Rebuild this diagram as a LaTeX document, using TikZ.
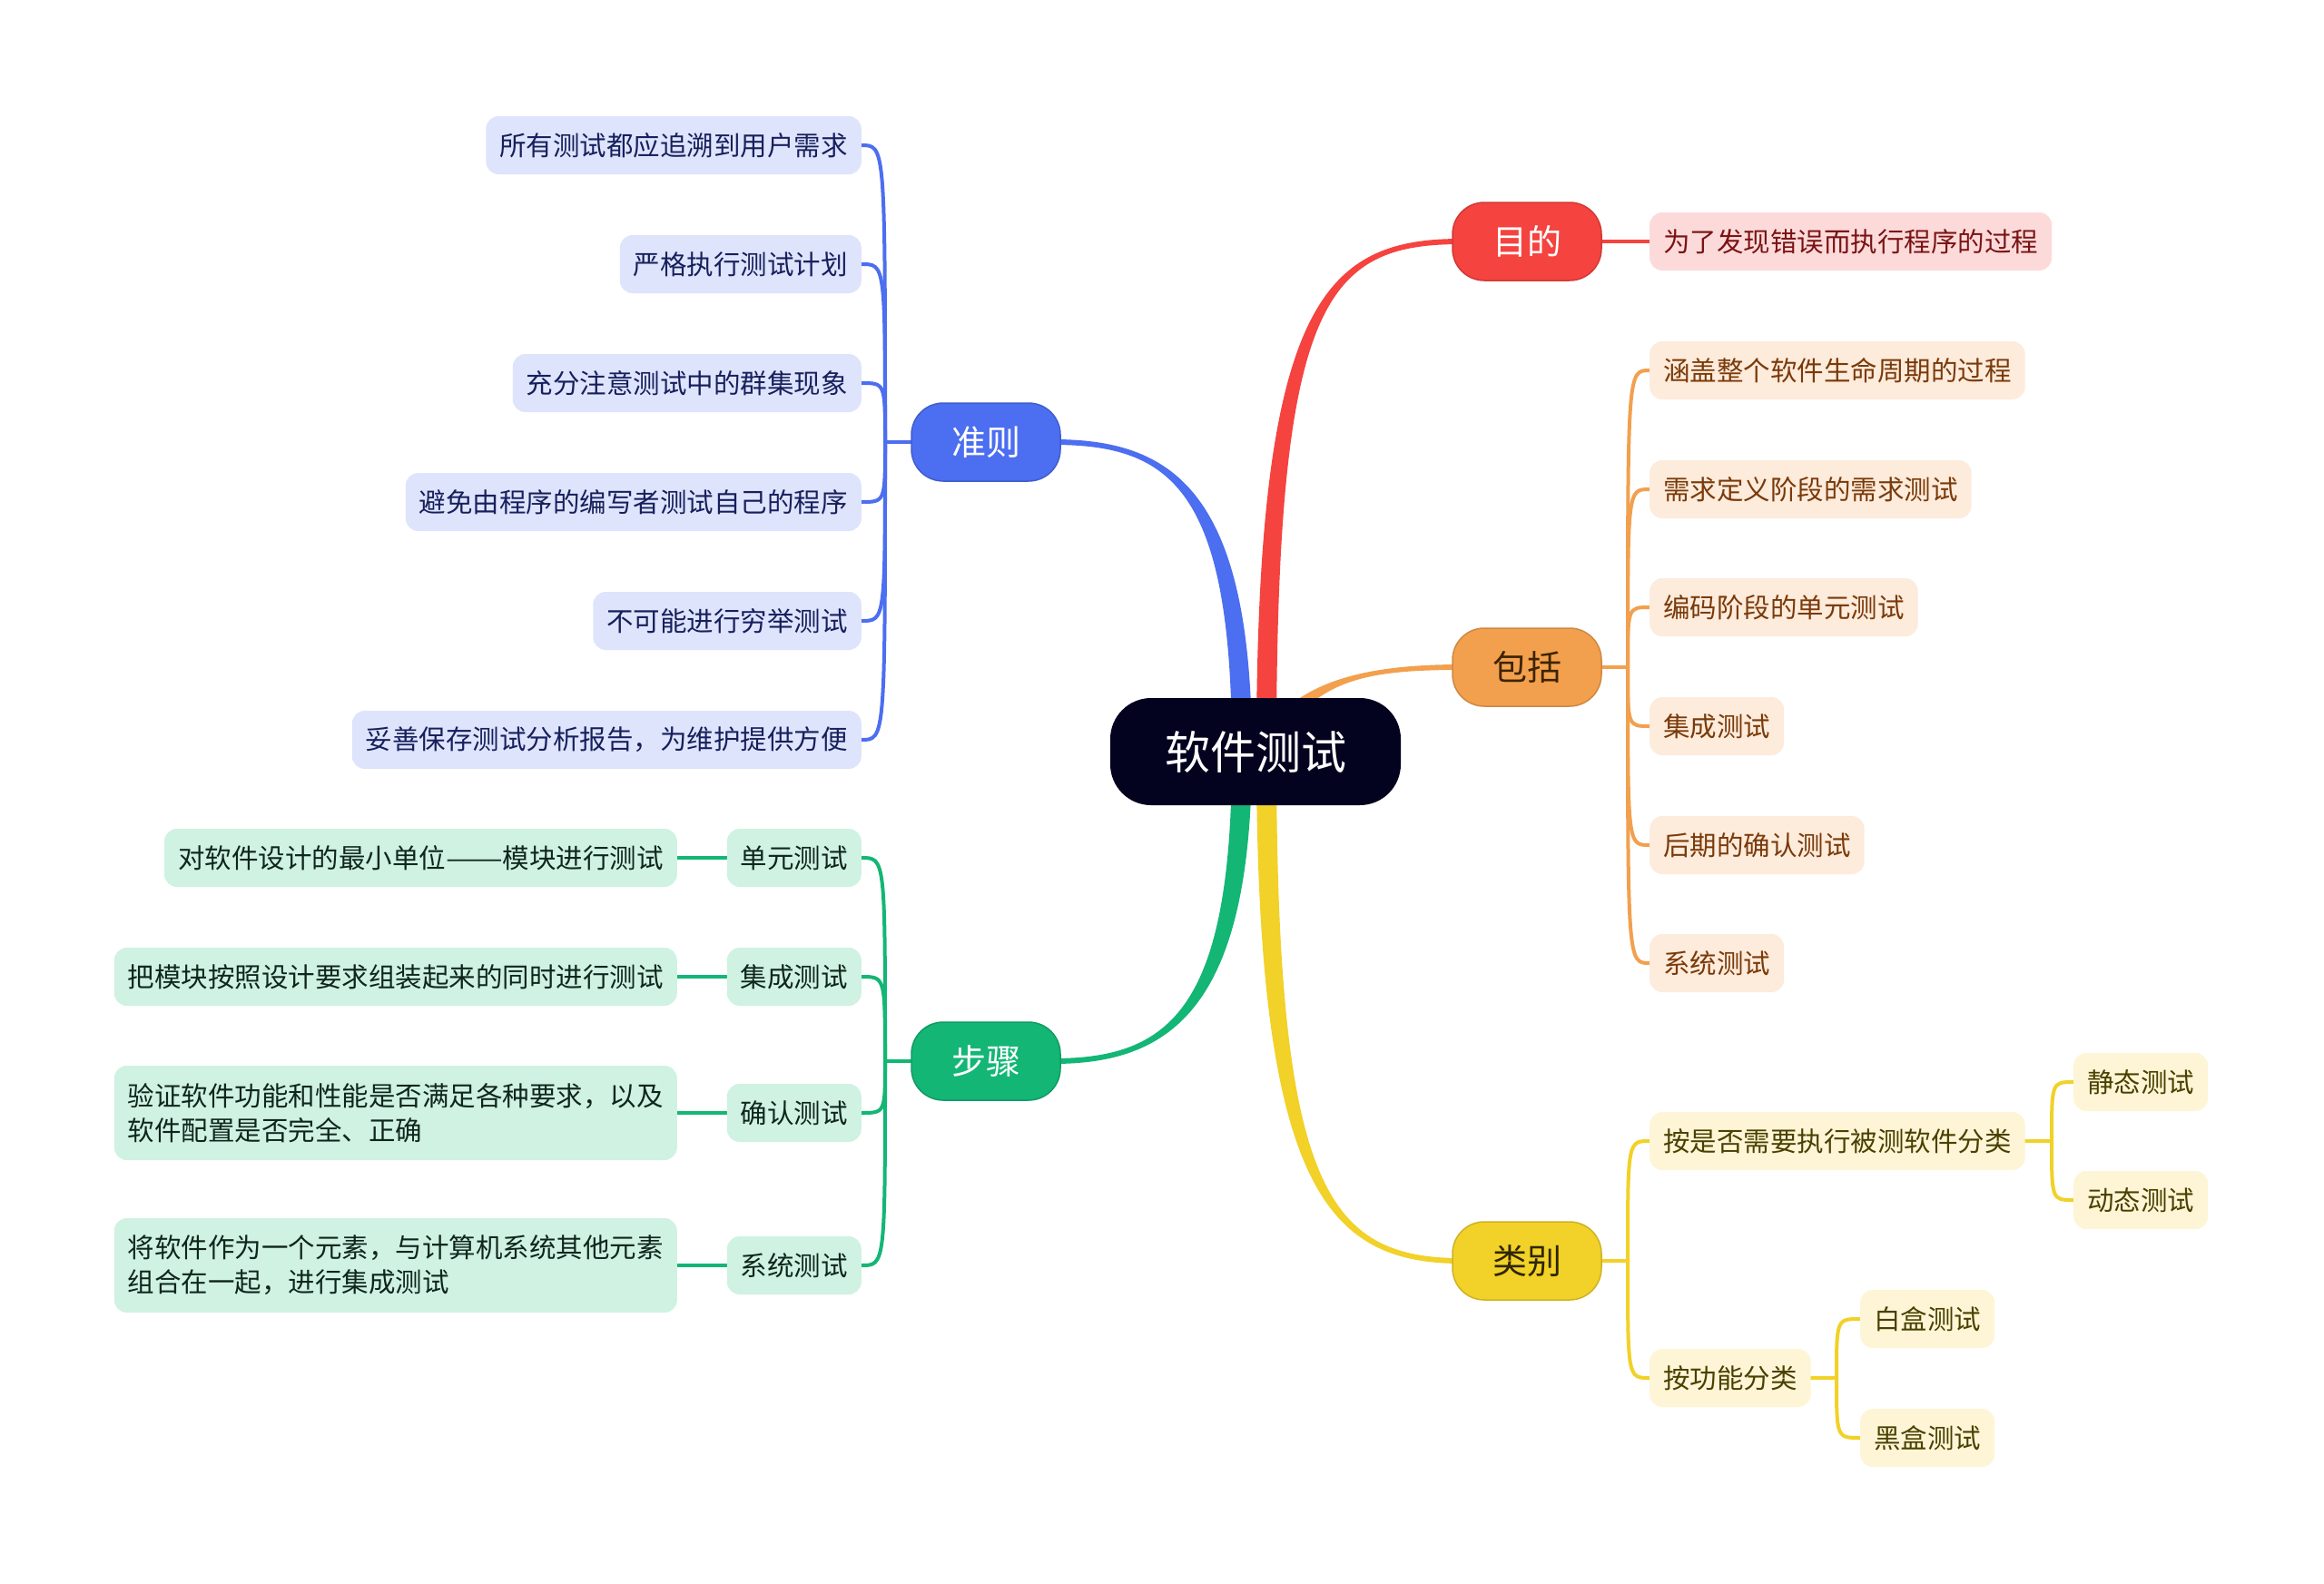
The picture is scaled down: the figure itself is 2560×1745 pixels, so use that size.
\documentclass[tikz,border=0pt]{standalone}
\usepackage{fontspec}
\setmainfont{Noto Sans CJK SC}
\definecolor{cdark}{HTML}{03021F}
\definecolor{cblue}{HTML}{4C6EF0}
\definecolor{cred}{HTML}{F5433F}
\definecolor{corange}{HTML}{F2A04E}
\definecolor{cgreen}{HTML}{13B675}
\definecolor{cyellow}{HTML}{F2D128}
\definecolor{lblue}{HTML}{DEE4FC}
\definecolor{lred}{HTML}{FDDADA}
\definecolor{lorange}{HTML}{FDEBDB}
\definecolor{lgreen}{HTML}{CFF2E2}
\definecolor{lyellow}{HTML}{FDF5D5}
\definecolor{tblue}{HTML}{17205C}
\definecolor{tred}{HTML}{7A1414}
\definecolor{torange}{HTML}{7A3A0A}
\definecolor{tgreen}{HTML}{10261C}
\definecolor{tyellow}{HTML}{4A4000}
\definecolor{tor}{HTML}{3D2300}
\definecolor{tyl}{HTML}{2E2600}
\pgfdeclarelayer{back}
\pgfdeclarelayer{bg}
\pgfsetlayers{back,bg,main}
\newcommand\brA[9]{\fill[#1] (#2-11,#3) .. controls (#4-11,#5) and (#6,#7-3) .. (#8,#9-3) -- (#8,#9+3) .. controls (#6,#7+3) and (#4+11,#5) .. (#2+11,#3) -- cycle;}
\newcommand\brB[9]{\fill[#1] (#2-11,#3) .. controls (#4-11,#5) and (#6,#7+3) .. (#8,#9+3) -- (#8,#9-3) .. controls (#6,#7-3) and (#4+11,#5) .. (#2+11,#3) -- cycle;}
\newcommand\lk[4]{\draw[conn=#1] (#2) .. controls (#2 |- #3.#4) and (#2 |- #3.#4) .. (#3.#4);}
\tikzset{
  cen/.style={fill=cdark, text=white, rounded corners=45, minimum width=320, minimum height=118, inner sep=0, font=\fontsize{50}{60}\selectfont},
  topic/.style={rounded corners=35, minimum width=164, minimum height=86, inner sep=0, line width=1.5, font=\fontsize{38}{46}\selectfont},
  leaf/.style={rounded corners=14, minimum height=64, inner xsep=15, inner ysep=0, align=left, font=\fontsize{29.5}{38}\selectfont},
  bleaf/.style={leaf, fill=lblue, text=tblue, anchor=east},
  gleaf/.style={leaf, fill=lgreen, text=tgreen, anchor=east},
  oleaf/.style={leaf, fill=lorange, text=torange, anchor=west},
  rleaf/.style={leaf, fill=lred, text=tred, anchor=west},
  yleaf/.style={leaf, fill=lyellow, text=tyellow, anchor=west},
  conn/.style={draw=#1, line width=4, line cap=round}
}
\begin{document}
\begin{tikzpicture}[x=1pt,y=-1pt]
\useasboundingbox (0,0) rectangle (2560,1745);
\begin{pgfonlayer}{back}
\fill[white] (0,0) rectangle (2560,1745);
\end{pgfonlayer}
% central and main topics
\node[cen] (c) at (1383,828) {软件测试};
\node[topic, fill=cblue, draw=cblue!85!black, text=white] (zz) at (1086,487) {准则};
\node[topic, fill=cred, draw=cred!85!black, text=white] (md) at (1682,266) {目的};
\node[topic, fill=corange, draw=corange!85!black, text=tor] (bk) at (1682,735) {包括};
\node[topic, fill=cgreen, draw=cgreen!85!black, text=white] (bz) at (1086,1169) {步骤};
\node[topic, fill=cyellow, draw=cyellow!85!black, text=tyl] (lb) at (1682,1389) {类别};
% 准则 leaves
\node[bleaf] (b1) at (949,160) {所有测试都应追溯到用户需求};
\node[bleaf] (b2) at (949,291) {严格执行测试计划};
\node[bleaf] (b3) at (949,422) {充分注意测试中的群集现象};
\node[bleaf] (b4) at (949,553) {避免由程序的编写者测试自己的程序};
\node[bleaf] (b5) at (949,684) {不可能进行穷举测试};
\node[bleaf] (b6) at (949,815) {妥善保存测试分析报告，为维护提供方便};
% 步骤
\node[gleaf] (g1) at (949,945) {单元测试};
\node[gleaf] (g2) at (949,1076) {集成测试};
\node[gleaf] (g3) at (949,1226) {确认测试};
\node[gleaf] (g4) at (949,1394) {系统测试};
\node[gleaf] (h1) at (746,945) {对软件设计的最小单位\scalebox{1.27}[1]{——}模块进行测试};
\node[gleaf] (h2) at (746,1076) {把模块按照设计要求组装起来的同时进行测试};
\node[gleaf, minimum height=104] (h3) at (746,1226) {验证软件功能和性能是否满足各种要求，以及\\软件配置是否完全、正确};
\node[gleaf, minimum height=104] (h4) at (746,1394) {将软件作为一个元素，与计算机系统其他元素\\组合在一起，进行集成测试};
% 目的
\node[rleaf] (r1) at (1817,266) {为了发现错误而执行程序的过程};
% 包括
\node[oleaf] (o1) at (1817,408) {涵盖整个软件生命周期的过程};
\node[oleaf] (o2) at (1817,539) {需求定义阶段的需求测试};
\node[oleaf] (o3) at (1817,669) {编码阶段的单元测试};
\node[oleaf] (o4) at (1817,800) {集成测试};
\node[oleaf] (o5) at (1817,931) {后期的确认测试};
\node[oleaf] (o6) at (1817,1061) {系统测试};
% 类别
\node[yleaf] (y1) at (1817,1257) {按是否需要执行被测软件分类};
\node[yleaf] (y2) at (1817,1518) {按功能分类};
\node[yleaf] (y3) at (2284,1192) {静态测试};
\node[yleaf] (y4) at (2284,1322) {动态测试};
\node[yleaf] (y5) at (2049,1453) {白盒测试};
\node[yleaf] (y6) at (2049,1584) {黑盒测试};
% junctions
\coordinate (jb) at (975,487);
\coordinate (jg) at (975,1169);
\coordinate (jo) at (1793,735);
\coordinate (jy) at (1793,1389);
\coordinate (jy1) at (2260,1257);
\coordinate (jy2) at (2023,1518);
\begin{pgfonlayer}{bg}
% main branches
\brB{cblue}{1368}{828}{1368}{539}{1290}{487}{1160}{487}
\brA{cgreen}{1368}{828}{1368}{1110}{1290}{1169}{1160}{1169}
\brA{cred}{1395}{828}{1395}{330}{1460}{266}{1610}{266}
\brB{cyellow}{1395}{828}{1395}{1306}{1460}{1389}{1610}{1389}
\brA{corange}{1410}{800}{1450}{745}{1520}{735}{1610}{735}
% blue
\draw[conn=cblue] (zz.west) -- (jb);
\foreach \n in {b1,b2,b3,b4,b5,b6}{\lk{cblue}{jb}{\n}{east}}
% green
\draw[conn=cgreen] (bz.west) -- (jg);
\foreach \n in {g1,g2,g3,g4}{\lk{cgreen}{jg}{\n}{east}}
\draw[conn=cgreen] (g1.west) -- (h1.east);
\draw[conn=cgreen] (g2.west) -- (h2.east);
\draw[conn=cgreen] (g3.west) -- (h3.east);
\draw[conn=cgreen] (g4.west) -- (h4.east);
% red
\draw[conn=cred] (md.east) -- (r1.west);
% orange
\draw[conn=corange] (bk.east) -- (jo);
\foreach \n in {o1,o2,o3,o4,o5,o6}{\lk{corange}{jo}{\n}{west}}
% yellow
\draw[conn=cyellow] (lb.east) -- (jy);
\foreach \n in {y1,y2}{\lk{cyellow}{jy}{\n}{west}}
\draw[conn=cyellow] (y1.east) -- (jy1);
\foreach \n in {y3,y4}{\lk{cyellow}{jy1}{\n}{west}}
\draw[conn=cyellow] (y2.east) -- (jy2);
\foreach \n in {y5,y6}{\lk{cyellow}{jy2}{\n}{west}}
\end{pgfonlayer}
\end{tikzpicture}
\end{document}
